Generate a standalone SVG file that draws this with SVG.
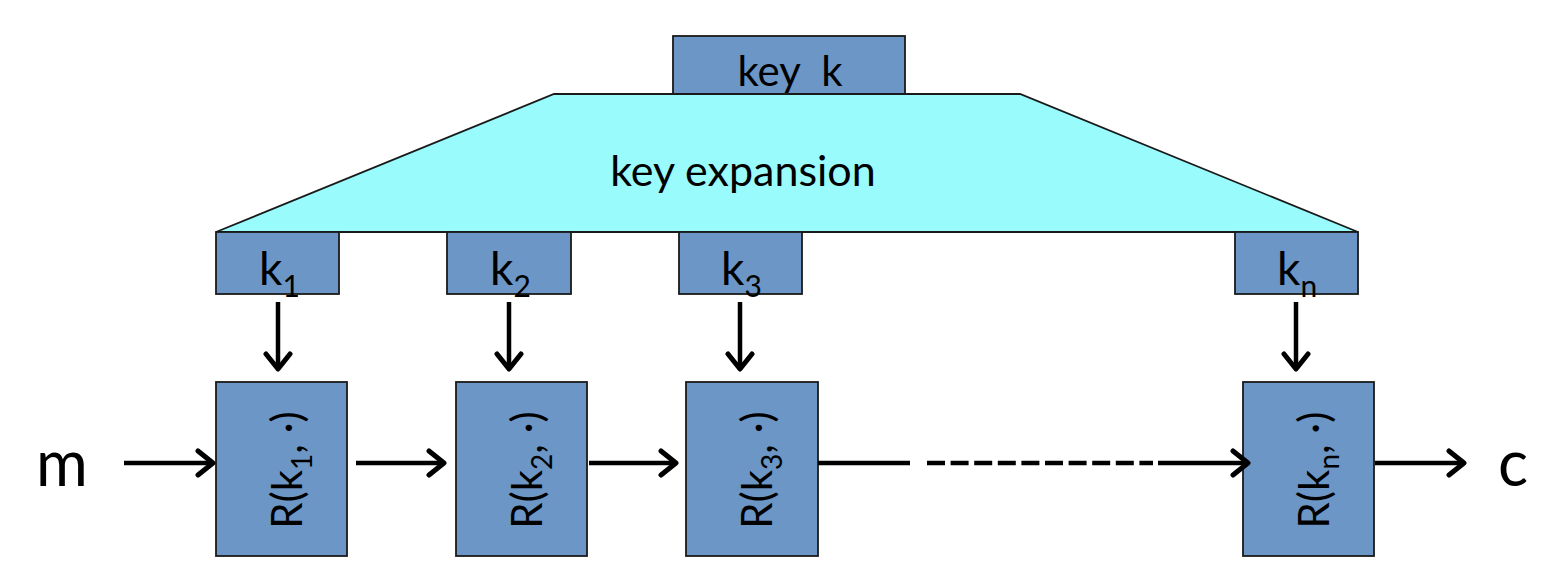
<svg xmlns="http://www.w3.org/2000/svg" width="1552" height="588" viewBox="0 0 1552 588">
<defs>
<marker id="ah" markerUnits="userSpaceOnUse" markerWidth="30" markerHeight="30" viewBox="-20 -15 30 30" refX="0" refY="0" orient="auto">
<path d="M-15,-12 L0,0 L-15,12" fill="none" stroke="#000" stroke-width="5" stroke-linecap="round" stroke-linejoin="round"/>
</marker>
</defs>
<style>
.box{fill:#6b96c6;stroke:#1a1a1a;stroke-width:1.8}
.exp{fill:#99fbfc;stroke:#1a1a1a;stroke-width:1.8}
.t{font-family:Lato,"Open Sans",sans-serif;fill:#000}
.line{stroke:#000;stroke-width:4.5;fill:none}
.arr{stroke:#000;stroke-width:4.5;fill:none;marker-end:url(#ah)}
</style>
<rect width="1552" height="588" fill="#fff"/>
<g id="key-k">
<rect class="box" x="673" y="36" width="232" height="58"/>
<text class="t" x="790" y="86" font-size="42" text-anchor="middle" xml:space="preserve">key  k</text>
</g>
<g id="key-expansion">
<polygon class="exp" points="554,94 1020,94 1358,232 216,232"/>
<text class="t" x="743" y="186" font-size="43" text-anchor="middle">key expansion</text>
</g>
<g id="k1">
<rect class="box" x="216" y="232" width="123" height="62"/>
<text class="t" x="259" y="285" font-size="46">k<tspan font-size="30" dy="12">1</tspan></text>
</g>
<g id="k2">
<rect class="box" x="447" y="232" width="124" height="62"/>
<text class="t" x="490" y="285" font-size="46">k<tspan font-size="30" dy="12">2</tspan></text>
</g>
<g id="k3">
<rect class="box" x="679" y="232" width="123" height="62"/>
<text class="t" x="721" y="285" font-size="46">k<tspan font-size="30" dy="12">3</tspan></text>
</g>
<g id="kn">
<rect class="box" x="1235" y="232" width="123" height="62"/>
<text class="t" x="1277" y="285" font-size="46">k<tspan font-size="30" dy="12">n</tspan></text>
</g>
<g id="R1">
<rect class="box" x="216" y="382" width="131" height="174"/>
<text class="t" transform="translate(302,470) rotate(-90)" font-size="42" text-anchor="middle">R(k<tspan font-size="28" dy="10">1</tspan><tspan dy="-10">, ·)</tspan></text>
</g>
<g id="R2">
<rect class="box" x="456" y="382" width="131" height="174"/>
<text class="t" transform="translate(542,470) rotate(-90)" font-size="42" text-anchor="middle">R(k<tspan font-size="28" dy="10">2</tspan><tspan dy="-10">, ·)</tspan></text>
</g>
<g id="R3">
<rect class="box" x="686" y="382" width="132" height="174"/>
<text class="t" transform="translate(772,470) rotate(-90)" font-size="42" text-anchor="middle">R(k<tspan font-size="28" dy="10">3</tspan><tspan dy="-10">, ·)</tspan></text>
</g>
<g id="Rn">
<rect class="box" x="1243" y="382" width="131" height="174"/>
<text class="t" transform="translate(1329,470) rotate(-90)" font-size="42" text-anchor="middle">R(k<tspan font-size="28" dy="10">n</tspan><tspan dy="-10">, ·)</tspan></text>
</g>
<g id="m">
<text class="t" x="36" y="486" font-size="63">m</text>
</g>
<g id="c">
<text class="t" x="1498" y="486" font-size="63">c</text>
</g>
<g id="connectors">
<line class="arr" x1="278" y1="302" x2="278" y2="369"/>
<line class="arr" x1="509" y1="302" x2="509" y2="369"/>
<line class="arr" x1="740" y1="302" x2="740" y2="369"/>
<line class="arr" x1="1296" y1="302" x2="1296" y2="369"/>
<line class="arr" x1="124" y1="463" x2="213" y2="463"/>
<line class="arr" x1="356" y1="463" x2="444" y2="463"/>
<line class="arr" x1="589" y1="463" x2="676" y2="463"/>
<line class="line" x1="818" y1="463" x2="910" y2="463"/>
<line class="line" x1="927" y1="463" x2="1153" y2="463" stroke-dasharray="18 5.6"/>
<line class="arr" x1="1158" y1="463" x2="1248" y2="463"/>
<line class="arr" x1="1375" y1="463" x2="1464" y2="463"/>
</g>
</svg>
